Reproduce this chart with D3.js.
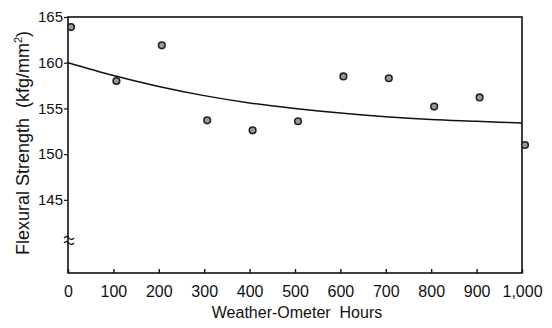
<!DOCTYPE html>
<html>
<head>
<meta charset="utf-8">
<script src="https://cdn.jsdelivr.net/npm/d3@7"></script>
<style>
  body { margin: 0; background: #fff; }
  text { font-family: "Liberation Sans", Arial, sans-serif; fill: #111; }
</style>
</head>
<body>
<svg width="552" height="328" viewBox="0 0 552 328"></svg>
<script>
// measured points (hours vs strength)
const hours = [0, 100, 200, 300, 400, 500, 600, 700, 800, 900, 1000];
const strength = [163.9, 158.0, 161.9, 153.7, 152.6, 153.6, 158.5, 158.3, 155.2, 156.2, 151.0];

// fitted curve
const fitHours = [0, 100, 200, 300, 400, 500, 600, 700, 800, 900, 1000];
const fitStrength = [160.0, 158.6, 157.4, 156.4, 155.6, 155.0, 154.5, 154.1, 153.8, 153.6, 153.4];

const xTicks = [0, 100, 200, 300, 400, 500, 600, 700, 800, 900, 1000];
const yTicks = [145, 150, 155, 160, 165];

const svg = d3.select("svg");
const margin = {left: 68, right: 30, top: 17, bottom: 55};
const width = 552, height = 328;

const x = d3.scaleLinear().domain([0, 1000]).range([margin.left, width - margin.right]);
const y = d3.scaleLinear().domain([137, 165]).range([height - margin.bottom, margin.top]);

const x0 = x.range()[0], x1 = x.range()[1];
const y0 = y.range()[0], y1 = y.range()[1];

// frame
svg.append("rect")
    .attr("x", x0).attr("y", y1)
    .attr("width", x1 - x0).attr("height", y0 - y1)
    .attr("fill", "none").attr("stroke", "#111").attr("stroke-width", 1.6);

// x axis: inward ticks, labels below
const xAxis = svg.append("g").attr("transform", `translate(0,${y0})`)
    .call(d3.axisBottom(x).tickValues(xTicks).tickSizeInner(-4).tickSizeOuter(0)
        .tickFormat(d3.format(",")));
xAxis.select(".domain").remove();
xAxis.selectAll("line").attr("stroke", "#111").attr("stroke-width", 1.4);
xAxis.selectAll("text").attr("font-size", 16).attr("dy", "1.1em").attr("y", 6)
    .attr("font-family", "Liberation Sans, Arial, sans-serif").attr("fill", "#111");

// y axis: short outward ticks
const yAxis = svg.append("g").attr("transform", `translate(${x0},0)`)
    .call(d3.axisLeft(y).tickValues(yTicks).tickSizeInner(4).tickSizeOuter(0));
yAxis.select(".domain").remove();
yAxis.selectAll("line").attr("stroke", "#111").attr("stroke-width", 1.2);
yAxis.selectAll("text").attr("font-size", 15).attr("x", -5)
    .attr("font-family", "Liberation Sans, Arial, sans-serif").attr("fill", "#111");

// axis break mark
const by = y(140.5);
svg.append("path")
    .attr("d", `M${x0 - 4},${by - 3} q3,-3 5,0 t5,0 M${x0 - 4},${by + 2} q3,-3 5,0 t5,0`)
    .attr("fill", "none").attr("stroke", "#111").attr("stroke-width", 1.3);

// fitted curve
const line = d3.line()
    .x((d, i) => x(fitHours[i]))
    .y(d => y(d))
    .curve(d3.curveMonotoneX);
svg.append("path")
    .datum(fitStrength)
    .attr("d", line)
    .attr("fill", "none").attr("stroke", "#111").attr("stroke-width", 1.5);

// points
svg.append("g").selectAll("circle")
    .data(strength)
    .enter()
    .append("circle")
    .attr("cx", (d, i) => x(hours[i]) + 3)
    .attr("cy", d => y(d))
    .attr("r", 3.3)
    .attr("fill", "#999")
    .attr("stroke", "#222")
    .attr("stroke-width", 1.6);

// titles
svg.append("text")
    .attr("x", (x0 + x1) / 2 + 2).attr("y", 318)
    .attr("text-anchor", "middle")
    .attr("font-size", 16)
    .style("white-space", "pre")
    .text("Weather-Ometer  Hours");

const yl = svg.append("text")
    .attr("transform", "translate(29,143) rotate(-90)")
    .attr("text-anchor", "middle")
    .attr("font-size", 18)
    .style("white-space", "pre");
yl.append("tspan").text("Flexural Strength  (kfg/mm");
yl.append("tspan").attr("font-size", 11).attr("dy", -7).text("2");
yl.append("tspan").attr("dy", 7).text(")");
</script>
</body>
</html>
